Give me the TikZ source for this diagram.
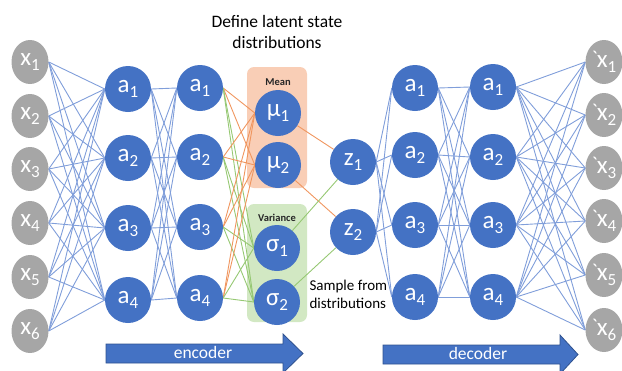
\documentclass[tikz,border=0pt]{standalone}
\usepackage{fontspec}
\setmainfont{Carlito}
\usetikzlibrary{shapes.geometric}
% plain font instance without TeX ligature mapping, for the grave accent
\font\gravefont="Carlito" at 21pt
\definecolor{nodeblue}{RGB}{68,114,196}
\definecolor{nodegrey}{RGB}{166,166,166}
\definecolor{wireblue}{RGB}{128,158,218}
\definecolor{wireorange}{RGB}{240,150,95}
\definecolor{wiregreen}{RGB}{150,200,115}
\definecolor{meanfill}{RGB}{249,206,182}
\definecolor{varfill}{RGB}{210,232,195}
\definecolor{arrowline}{RGB}{47,82,143}
\newcommand\nlab[2]{{\fontsize{25}{25}\selectfont #1\raisebox{-4.5pt}{\fontsize{17}{17}\selectfont #2}}}
\newcommand\glab[1]{\raisebox{2pt}{\gravefont\char96}\kern-1pt\nlab{x}{#1}}
\pgfdeclarelayer{boxes}
\pgfdeclarelayer{edges}
\pgfsetlayers{boxes,edges,main}
\tikzset{
  neuron/.style={circle,fill=nodeblue,draw=none,minimum size=46pt,inner sep=0pt,text=white},
  datum/.style={ellipse,fill=nodegrey,draw=none,minimum width=37pt,minimum height=44pt,inner sep=0pt,text=white},
  blueedge/.style={draw=wireblue,line width=0.9pt},
  orangeedge/.style={draw=wireorange,line width=0.9pt},
  greenedge/.style={draw=wiregreen,line width=0.9pt},
  groupbox/.style={rounded corners=7pt,draw=none,minimum width=60pt,inner sep=0pt},
  boxtitle/.style={font=\fontsize{10.5}{11}\selectfont\bfseries,text=black!85},
  flowarrow/.style={fill=nodeblue,draw=arrowline,line width=0.8pt},
  arrowtext/.style={text=white,font=\fontsize{17.5}{18}\selectfont}
}
\begin{document}
\begin{tikzpicture}[x=1pt,y=-1pt]
\useasboundingbox (0,0) rectangle (622,370);

% input and reconstructed data
\foreach \i/\yy in {1/62,2/116,3/169,4/223,5/277,6/331}{
  \node[datum] (x\i) at (30,\yy) {\nlab{x}{\i}};
}
\foreach \i/\yy in {1/62,2/115,3/168,4/221,5/275,6/330}{
  \node[datum] (y\i) at (604,\yy) {\glab{\i}};
}

% encoder hidden layers
\foreach \i/\yy in {1/89,2/158,3/228,4/300}{
  \node[neuron] (ea\i) at (128,\yy) {\nlab{a}{\i}};
}
\foreach \i/\yy in {1/88,2/157,3/227,4/298}{
  \node[neuron] (eb\i) at (200,\yy) {\nlab{a}{\i}};
}

% latent distribution parameters
\begin{pgfonlayer}{boxes}
  \node[groupbox,fill=meanfill,minimum height=121pt] (meanbox) at (277,127.5) {};
  \node[groupbox,fill=varfill,minimum height=118pt] (varbox) at (277,263) {};
\end{pgfonlayer}
\node[boxtitle] (meanlab) at (278,82) {Mean};
\node[boxtitle] (varlab) at (277,218) {Variance};
\node[neuron] (mu1) at (278,113) {\nlab{μ}{1}};
\node[neuron] (mu2) at (278,165) {\nlab{μ}{2}};
\node[neuron] (sg1) at (277,248) {\nlab{σ}{1}};
\node[neuron] (sg2) at (277,302) {\nlab{σ}{2}};

% sampled latent variables
\node[neuron] (z1) at (353,162) {\nlab{z}{1}};
\node[neuron] (z2) at (353,232) {\nlab{z}{2}};

% decoder hidden layers
\foreach \i/\yy in {1/88,2/155,3/225,4/297}{
  \node[neuron] (da\i) at (415,\yy) {\nlab{a}{\i}};
}
\foreach \i/\yy in {1/87,2/157,3/225,4/297}{
  \node[neuron] (db\i) at (493,\yy) {\nlab{a}{\i}};
}

% connections: every wire leaves on the right side and enters on the left side
\begin{pgfonlayer}{edges}
  \foreach \i in {1,...,6}{\foreach \j in {1,...,4}{\draw[blueedge] (x\i.east) -- (ea\j.west);}}
  \foreach \i in {1,...,4}{\foreach \j in {1,...,4}{\draw[blueedge] (ea\i.east) -- (eb\j.west);}}
  \foreach \i in {1,...,4}{
    \foreach \j in {1,2}{\draw[orangeedge] (eb\i.east) -- (mu\j.west);}
    \foreach \j in {1,2}{\draw[greenedge] (eb\i.east) -- (sg\j.west);}
  }
  \draw[orangeedge] (mu1) -- (z1);
  \draw[orangeedge] (mu2) -- (z2);
  \draw[greenedge] (sg1) -- (z1);
  \draw[greenedge] (sg2) -- (z2);
  \foreach \i in {1,2}{\foreach \j in {1,...,4}{\draw[blueedge] (z\i.east) -- (da\j.west);}}
  \foreach \i in {1,...,4}{\foreach \j in {1,...,4}{\draw[blueedge] (da\i.east) -- (db\j.west);}}
  \foreach \i in {1,...,4}{\foreach \j in {1,...,6}{\draw[blueedge] (db\i.east) -- (y\j.west);}}
\end{pgfonlayer}

% captions
\node[font=\fontsize{17.5}{21}\selectfont,align=center] (title) at (277,32) {Define latent state\\distributions};
\node[font=\fontsize{15}{18}\selectfont,align=left,anchor=west] (sample) at (306,294) {Sample from\\distributions};

% direction arrows
\path[flowarrow] (106,344) -- (283,344) -- (283,334) -- (303,353.5) -- (283,373) -- (283,363) -- (106,363) -- cycle;
\node[arrowtext] (enc) at (203,352) {encoder};
\path[flowarrow] (383,345) -- (560,345) -- (560,335) -- (578,354.5) -- (560,374) -- (560,364) -- (383,364) -- cycle;
\node[arrowtext] (dec) at (478,353) {decoder};
\end{tikzpicture}
\end{document}
